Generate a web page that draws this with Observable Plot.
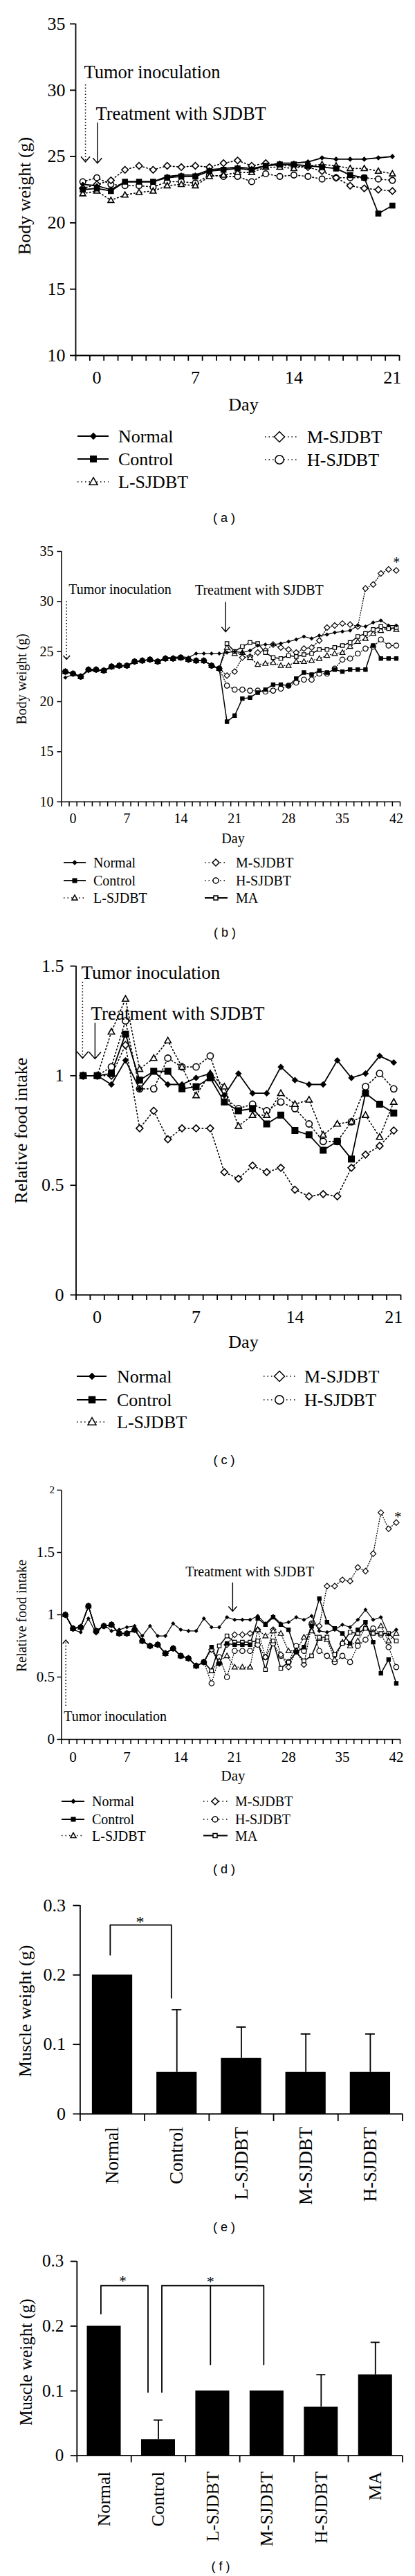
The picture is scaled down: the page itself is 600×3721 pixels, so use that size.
<!DOCTYPE html>
<html><head><meta charset="utf-8">
<script src="https://cdn.jsdelivr.net/npm/d3@7"></script>
<script src="https://cdn.jsdelivr.net/npm/@observablehq/plot@0.6"></script>
<style>
body{margin:0;background:#fff;}
#page{position:relative;width:600px;height:3721px;overflow:hidden;background:#fff;}
.abs{position:absolute;white-space:nowrap;line-height:1;color:#000;}
</style></head>
<body><div id="page"></div>
<script>
// ================= DATA =================
// (a) body weight, days -1..21
const aDays = d3.range(-1, 22);
const aNormal  = [22.9,22.8,22.5,23.1,23.1,23.1,23.5,23.6,23.6,24.0,24.1,24.2,24.1,24.3,24.5,24.5,24.6,24.9,24.8,24.8,24.8,24.9,25.0];
const aControl = [22.5,22.6,22.4,23.1,23.1,23.1,23.4,23.5,23.5,23.9,24.0,24.1,24.0,24.3,24.4,24.4,24.3,24.2,24.1,23.6,23.4,20.7,21.3];
const aL       = [22.2,22.4,21.7,22.1,22.3,22.4,22.8,22.9,22.8,23.5,23.6,23.8,23.8,24.2,24.2,24.1,24.3,24.4,24.3,24.1,24.1,23.9,23.7];
const aM       = [22.6,22.9,23.2,24.0,24.3,24.0,24.3,24.2,24.3,24.2,24.5,24.7,24.3,24.5,24.3,24.3,24.2,23.9,23.4,22.8,22.6,22.5,22.4];
const aH       = [23.1,23.4,22.9,22.8,22.8,22.7,23.1,23.1,23.0,23.6,23.5,23.5,23.1,23.7,23.5,23.6,23.5,23.3,23.4,23.4,23.4,23.3,23.2];

// (b) body weight, days -1..42 (tumour groups share values until day 19)
const bDays = d3.range(-1, 43);
const bNormal = [22.4,22.7,22.5,23.1,23.1,23.1,23.4,23.5,23.6,23.9,24.1,24.2,24.0,24.4,24.4,24.5,24.4,24.8,24.8,24.8,24.8,24.9,25.0,24.9,25.1,25.6,25.7,25.7,25.8,26.0,26.2,26.5,26.3,26.6,26.7,26.9,27.0,27.1,27.6,27.5,27.9,28.1,27.6,27.6];
const bTumorBefore = [23.0,22.8,22.5,23.2,23.2,23.1,23.5,23.6,23.6,24.0,24.1,24.2,24.0,24.3,24.3,24.4,24.2,24.1,24.1,23.6,23.3];
const bControlAfter = [18.0,18.6,20.3,20.4,20.9,21.2,21.7,21.7,21.6,22.3,22.9,22.7,23.1,22.9,23.2,23.0,23.2,23.2,23.2,25.6,24.3,24.3,24.3];
const bLAfter  = [25.4,24.8,24.9,24.4,23.7,23.8,23.9,23.6,23.6,24.0,24.0,24.1,24.3,24.6,24.8,24.9,25.5,26.0,26.3,26.8,27.1,27.4,27.2];
const bMAfter  = [22.6,23.0,24.4,24.5,24.9,25.1,25.7,25.4,25.2,24.9,25.3,25.4,26.1,27.4,27.6,27.8,27.7,27.5,31.3,31.7,32.8,33.2,33.1];
const bHAfter  = [21.6,21.2,21.2,21.1,21.1,21.0,21.1,21.3,21.6,21.9,22.2,22.2,22.8,22.8,23.3,24.2,24.3,24.8,25.3,25.5,26.2,25.6,25.6];
const bMAAfter = [25.8,25.0,25.5,25.9,25.8,24.9,24.4,24.3,24.6,24.5,24.7,24.8,25.2,25.2,25.4,25.6,25.9,26.5,26.8,27.2,27.5,27.3,27.4];

// (c) relative food intake, days -1..21
const cNormal  = [1.00,1.00,0.96,1.07,0.94,1.02,0.96,0.96,0.99,1.01,0.91,1.01,0.92,0.92,1.04,0.98,0.96,0.96,1.07,0.99,1.01,1.09,1.06];
const cControl = [1.00,1.00,1.01,1.19,0.98,1.02,1.02,0.94,0.95,0.99,0.88,0.84,0.85,0.78,0.82,0.75,0.73,0.66,0.70,0.62,0.92,0.87,0.83];
const cL       = [1.00,1.00,1.20,1.35,1.03,1.08,1.16,1.04,0.91,1.01,0.95,0.77,0.82,0.82,0.92,0.87,0.89,0.73,0.78,0.79,0.82,0.72,0.88];
const cM       = [1.00,1.00,1.00,1.14,0.76,0.84,0.71,0.76,0.76,0.76,0.56,0.53,0.59,0.56,0.58,0.48,0.45,0.46,0.45,0.58,0.64,0.68,0.75];
const cH       = [1.00,1.00,1.04,1.25,0.94,0.94,1.08,1.04,1.04,1.09,0.90,0.85,0.87,0.84,0.88,0.85,0.78,0.70,0.70,0.79,0.95,1.01,0.94];

// (d) relative food intake, days -1..42 (tumour groups share values until day 17)
const dNormal = [1.00,0.88,0.86,0.97,0.85,0.92,0.87,0.88,0.90,0.91,0.83,0.91,0.83,0.83,0.93,0.88,0.87,0.87,0.97,0.90,0.90,0.98,0.96,0.96,0.96,0.99,0.93,0.99,0.93,0.94,0.98,0.96,0.99,0.87,0.86,0.88,0.92,0.90,0.96,1.04,0.96,0.98,0.84,0.88];
const dTumorBefore = [1.00,0.89,0.90,1.07,0.87,0.91,0.92,0.85,0.85,0.88,0.79,0.75,0.76,0.69,0.73,0.67,0.65,0.59,0.62];
const dControlAfter = [0.74,0.61,0.77,0.76,0.76,0.76,0.97,0.92,0.98,0.92,0.88,0.70,0.74,0.91,1.13,0.94,0.89,0.85,0.77,0.88,0.94,0.78,0.53,0.64,0.45];
const dLAfter  = [0.55,0.63,0.67,0.58,0.58,0.58,0.88,0.83,0.87,0.85,0.71,0.71,0.82,0.87,0.81,0.80,0.64,0.78,0.75,0.79,0.90,0.86,0.91,0.79,0.85];
const dMAfter  = [0.72,0.61,0.76,0.84,0.84,0.85,0.88,0.66,0.88,0.68,0.58,0.71,0.60,0.92,0.91,1.23,1.23,1.28,1.27,1.38,1.35,1.49,1.82,1.69,1.74];
const dHAfter  = [0.45,0.66,0.50,0.71,0.71,0.71,0.76,0.66,0.77,0.67,0.62,0.75,0.71,0.93,0.71,0.67,0.62,0.67,0.62,0.75,0.80,0.89,0.84,0.74,0.58];
const dMAAfter = [0.55,0.75,0.83,0.78,0.78,0.78,0.79,0.56,0.79,0.57,0.62,0.70,0.63,0.67,0.82,0.82,0.68,0.77,0.86,0.85,0.89,0.85,0.85,0.85,0.79];

// (e) muscle weight
const eGroups = ["Normal","Control","L-SJDBT","M-SJDBT","H-SJDBT"];
const eMean   = [0.20,0.06,0.08,0.06,0.06];
const eErr    = [0,0.09,0.045,0.055,0.055];
// (f) muscle weight
const fGroups = ["Normal","Control","L-SJDBT","M-SJDBT","H-SJDBT","MA"];
const fMean   = [0.20,0.025,0.10,0.10,0.075,0.125];
const fErr    = [0,0.03,0,0,0.05,0.05];

// tick labels
const yTicksBW = [10,15,20,25,30,35];
const yTicksFood = [0,0.5,1,1.5];
const yTicksMuscle = [0,0.1,0.2,0.3];
const xLab21 = [0,7,14,21];
const xLab42 = [0,7,14,21,28,35,42];

// annotations (day, value)
const aNotes = [{label:"Tumor inoculation", day:-0.91, value:31.35},{label:"Treatment with SJDBT", day:-0.08, value:28.22}];
const aArrows = [{day:-0.81, from:30.43, to:24.6, dotted:true, head:6.5},{day:0.04, from:27.56, to:24.5, dotted:false, head:6.5}];
const bNotes = [{label:"Tumor inoculation", day:-0.57, value:31.17},{label:"Treatment with SJDBT", day:15.85, value:31.13}];
const bArrows = [{day:-0.84, from:30.02, to:24.22, dotted:true, head:4.8},{day:19.83, from:29.95, to:26.98, dotted:false, head:6}];
const bStars = [{day:42.03, value:34.24}];
const cNotes = [{label:"Tumor inoculation", day:-1.13, value:1.47},{label:"Treatment with SJDBT", day:-0.45, value:1.284}];
const cArrows = [{day:-1.04, from:1.427, to:1.080, dotted:true, head:8.5},{day:-0.16, from:1.241, to:1.077, dotted:false, head:8.5}];
const dNotes = [{label:"Tumor inoculation", day:-1.19, value:0.185},{label:"Treatment with SJDBT", day:14.61, value:1.343}];
const dArrows = [{day:-0.94, from:0.27, to:0.797, dotted:true, head:4.5},{day:20.74, from:1.259, to:1.028, dotted:false, head:6}];
const dStars = [{day:42.2, value:1.815}];
const eBrackets = [[[0.466,0.229],[0.466,0.272],[1.415,0.272],[1.415,0.167]]];
const eStars = [{pos:0.93, value:0.282}];
const fBrackets = [[[0.441,0.219],[0.441,0.2625],[1.309,0.2625],[1.309,0.098]],
                   [[1.564,0.098],[1.564,0.2625],[3.442,0.2625],[3.442,0.1407]],
                   [[2.46,0.2625],[2.46,0.1407]]];
const fStars = [{pos:0.844, value:0.276},{pos:2.46, value:0.274}];

// ================= STYLE =================
const page = document.getElementById("page");
const SERIF = "'Liberation Serif','Times New Roman',serif";
const SANS = "'Liberation Sans',Arial,sans-serif";
const rOf = s => Math.sqrt(s/Math.PI);
const SYM = {
  diamond:{draw(c,s){const r=rOf(s);c.moveTo(0,-r);c.lineTo(r,0);c.lineTo(0,r);c.lineTo(-r,0);c.closePath();}},
  square:{draw(c,s){const r=rOf(s);c.moveTo(-r,-r);c.lineTo(r,-r);c.lineTo(r,r);c.lineTo(-r,r);c.closePath();}},
  triangle:{draw(c,s){const r=rOf(s);c.moveTo(0,-1.05*r);c.lineTo(r,0.72*r);c.lineTo(-r,0.72*r);c.closePath();}},
  circle:{draw(c,s){const r=rOf(s);c.moveTo(r,0);c.arc(0,0,r,0,2*Math.PI);c.closePath();}},
  chevDown:{draw(c,s){const r=rOf(s);c.moveTo(-r,-1.15*r);c.lineTo(0,0);c.lineTo(r,-1.15*r);}},
  chevUp:{draw(c,s){const r=rOf(s);c.moveTo(-r,1.15*r);c.lineTo(0,0);c.lineTo(r,1.15*r);}}
};
const STY = {
  "Normal":{sym:"diamond", fill:"black", dotted:false},
  "Control":{sym:"square", fill:"black", dotted:false},
  "L-SJDBT":{sym:"triangle", fill:"white", dotted:true},
  "M-SJDBT":{sym:"diamond", fill:"white", dotted:true},
  "H-SJDBT":{sym:"circle", fill:"white", dotted:true},
  "MA":{sym:"square", fill:"white", dotted:false}
};
const DRAW_ORDER = ["H-SJDBT","M-SJDBT","L-SJDBT","MA","Control","Normal"];

function rows(name, days, values){ return values.map((v,i)=>({name, day:days[i], value:v})); }

function text(t, x, y, size, opt={}) {
  const d = document.createElement("div");
  d.className = "abs";
  d.textContent = t;
  d.style.left = x+"px"; d.style.top = y+"px"; d.style.fontSize = size+"px";
  d.style.fontFamily = opt.sans ? SANS : SERIF;
  d.style.transform = "translate(-50%,-50%)" + (opt.rot ? " rotate(-90deg)" : "");
  page.appendChild(d);
}

function mount(svg, top) {
  svg.style.position = "absolute"; svg.style.left = "0px"; svg.style.top = top + "px";
  svg.style.overflow = "visible"; svg.style.background = "none";
  page.appendChild(svg);
}

function linePanel(p) {
  const mt = 40, mb = 50;
  const [x0, x1] = p.xDomain;
  const marks = [
    Plot.ruleY([p.yDomain[0]], {stroke:"black", strokeWidth:p.axisW}),
    Plot.ruleX([x0], {stroke:"black", strokeWidth:p.axisW}),
    Plot.axisY({ticks:p.yTicks, tickSize:p.yTickSize, tickPadding:p.yTickPad, strokeWidth:p.axisW, label:null, tickFormat:d=>String(d)}),
    Plot.axisX({ticks:d3.range(x0, x1+0.5, 1), tickSize:p.xTickSize, tickFormat:()=>"", strokeWidth:p.axisW, label:null}),
    Plot.axisX({ticks:p.xLabels, tickSize:0, tickPadding:p.xLabelPad, label:null})
  ];
  if (p.extraYTicks) marks.push(Plot.axisY({ticks:p.extraYTicks, tickSize:p.yTickSize, tickPadding:p.yTickPad, strokeWidth:p.axisW, label:null, fontSize:p.extraFont, tickFormat:d=>String(d)}));
  const order = DRAW_ORDER.filter(n => p.series[n]);
  for (const n of order) {
    const st = STY[n];
    const o = {x:"day", y:"value", stroke:"black", strokeWidth: st.dotted ? p.dotW : (n==="Normal" ? p.normW : p.lineW)};
    if (st.dotted) o.strokeDasharray = p.dash;
    marks.push(Plot.line(p.series[n], o));
  }
  for (const n of order) {
    const st = STY[n];
    marks.push(Plot.dot(p.series[n], {x:"day", y:"value", symbol:SYM[st.sym], r:p.sizes[n], fill:st.fill, stroke:"black", strokeWidth:p.mkW}));
  }
  for (const a of p.arrows) {
    const o = {x1:"day", x2:"day", y1:"from", y2:"to", stroke:"black", strokeWidth: a.dotted ? 1.5 : 1.4};
    if (a.dotted) o.strokeDasharray = "1.5,3";
    marks.push(Plot.link([a], o));
    marks.push(Plot.dot([a], {x:"day", y:"to", symbol: a.to < a.from ? SYM.chevDown : SYM.chevUp, r:a.head, fill:"none", stroke:"black", strokeWidth:1.5}));
  }
  marks.push(Plot.text(p.notes, {x:"day", y:"value", text:"label", textAnchor:"start", lineAnchor:"middle", fontSize:p.noteSize, fill:"black"}));
  if (p.stars) marks.push(Plot.text(p.stars, {x:"day", y:"value", text:()=>"*", textAnchor:"middle", lineAnchor:"middle", fontSize:p.fontSize, dy:0.25*p.fontSize}));
  const svg = Plot.plot({
    width:600, height:(p.yBottom-p.yTop)+mt+mb, marginTop:mt, marginBottom:mb,
    marginLeft:p.xLeft, marginRight:600-p.xRight,
    x:{domain:p.xDomain, label:null}, y:{domain:p.yDomain, label:null},
    style:{fontFamily:SERIF, fontSize:p.fontSize+"px", color:"black", background:"none", overflow:"visible"},
    marks
  });
  mount(svg, p.yTop - mt);
}

function barPanel(p) {
  const mt = 40, mb = 130;
  const n = p.groups.length;
  const data = p.groups.map((g,i)=>({g, i, mean:p.mean[i], err:p.err[i]}));
  const half = 0.3125;
  const marks = [
    Plot.rect(data, {x1:d=>d.i+0.5-half, x2:d=>d.i+0.5+half, y1:0, y2:"mean", fill:"black"}),
    Plot.ruleX(data.filter(d=>d.err>0), {x:d=>d.i+0.5, y1:"mean", y2:d=>d.mean+d.err, stroke:"black", strokeWidth:1.8}),
    Plot.ruleY(data.filter(d=>d.err>0), {y:d=>d.mean+d.err, x1:d=>d.i+0.5-p.cap, x2:d=>d.i+0.5+p.cap, stroke:"black", strokeWidth:1.8}),
    Plot.ruleY([0], {stroke:"black", strokeWidth:1.8}),
    Plot.ruleX([0], {stroke:"black", strokeWidth:1.8}),
    Plot.axisY({ticks:p.yTicks, tickSize:p.yTickSize, tickPadding:p.yTickPad, strokeWidth:1.8, label:null, tickFormat:d=>d===0?"0":d.toFixed(1)}),
    Plot.axisX({ticks:d3.range(0, n+1), tickSize:p.xTickSize, tickFormat:()=>"", strokeWidth:1.8, label:null}),
    Plot.axisX({ticks:p.groups.map((g,i)=>i+0.5), tickFormat:d=>p.groups[Math.floor(d)], tickRotate:-90, tickSize:0, tickPadding:p.labelPad, fontSize:p.labelSize, label:null})
  ];
  for (const b of p.brackets) marks.push(Plot.line(b, {x:d=>d[0], y:d=>d[1], stroke:"black", strokeWidth:1.8}));
  marks.push(Plot.text(p.stars, {x:"pos", y:"value", text:()=>"*", textAnchor:"middle", lineAnchor:"middle", fontSize:p.starSize, dy:0.25*p.starSize}));
  const svg = Plot.plot({
    width:600, height:(p.yBottom-p.yTop)+mt+mb, marginTop:mt, marginBottom:mb,
    marginLeft:p.xLeft, marginRight:600-p.xRight,
    x:{domain:[0,n], label:null}, y:{domain:[0,0.3], label:null},
    style:{fontFamily:SERIF, fontSize:p.fontSize+"px", color:"black", background:"none", overflow:"visible"},
    marks
  });
  mount(svg, p.yTop - mt);
}

function legend(items, size) {
  const top = d3.min(items, d=>d.y) - 25, h = d3.max(items, d=>d.y) - top + 25;
  const svg = d3.create("svg").attr("width",600).attr("height",h)
    .style("position","absolute").style("left","0px").style("top",top+"px").style("overflow","visible");
  for (const it of items) {
    const st = STY[it.name];
    const y = it.y - top;
    const ln = svg.append("line").attr("x1",it.c.x0).attr("x2",it.c.x1).attr("y1",y).attr("y2",y)
      .attr("stroke","black").attr("stroke-width", st.dotted ? 1.5 : 1.8);
    if (st.dotted) ln.attr("stroke-dasharray","1.5,4");
    const pth = d3.path(); SYM[st.sym].draw(pth, Math.PI*it.r*it.r);
    svg.append("path").attr("d", pth.toString()).attr("transform",`translate(${it.c.mx},${y})`)
      .attr("fill", st.fill).attr("stroke","black").attr("stroke-width",1.5);
    svg.append("text").attr("x",it.c.tx).attr("y",y).attr("dy","0.35em")
      .style("font-family",SERIF).style("font-size",size+"px").text(it.name);
  }
  page.appendChild(svg.node());
}

// ================= PANELS =================
// (a)
linePanel({
  xLeft:109, xRight:577, yTop:33.5, yBottom:512.5, xDomain:[-1.5,21.5], yDomain:[10,35],
  yTicks:yTicksBW, xLabels:xLab21, fontSize:26, yTickSize:8, yTickPad:7, xTickSize:8, xLabelPad:22.5,
  axisW:1.8, lineW:1.8, normW:1.8, dotW:1.6, mkW:1.6, dash:"1.5,3.5", noteSize:26.5,
  series:{"Normal":rows("Normal",aDays,aNormal),"Control":rows("Control",aDays,aControl),
    "L-SJDBT":rows("L-SJDBT",aDays,aL),"M-SJDBT":rows("M-SJDBT",aDays,aM),"H-SJDBT":rows("H-SJDBT",aDays,aH)},
  sizes:{"Normal":2.7,"Control":3.5,"L-SJDBT":4.3,"M-SJDBT":4.8,"H-SJDBT":4.25},
  notes:aNotes, arrows:aArrows
});
// (b)
linePanel({
  xLeft:88.4, xRight:578, yTop:796, yBottom:1157.7, xDomain:[-1.5,42.5], yDomain:[10,35],
  yTicks:yTicksBW, xLabels:xLab42, fontSize:20, yTickSize:6, yTickPad:5.5, xTickSize:7, xLabelPad:16.7,
  axisW:1.5, lineW:1.5, normW:1.2, dotW:1.3, mkW:1.2, dash:"1,2.5", noteSize:20,
  series:{"Normal":rows("Normal",bDays,bNormal),
    "Control":rows("Control",bDays,bTumorBefore.concat(bControlAfter)),
    "L-SJDBT":rows("L-SJDBT",bDays,bTumorBefore.concat(bLAfter)),
    "M-SJDBT":rows("M-SJDBT",bDays,bTumorBefore.concat(bMAfter)),
    "H-SJDBT":rows("H-SJDBT",bDays,bTumorBefore.concat(bHAfter)),
    "MA":rows("MA",bDays,bTumorBefore.concat(bMAAfter))},
  sizes:{"Normal":2.2,"Control":2.6,"L-SJDBT":3.8,"M-SJDBT":4.1,"H-SJDBT":3.7,"MA":2.7},
  notes:bNotes, arrows:bArrows, stars:bStars
});
// (c)
linePanel({
  xLeft:109.5, xRight:579, yTop:1395, yBottom:1870, xDomain:[-1.5,21.5], yDomain:[0,1.5],
  yTicks:yTicksFood, xLabels:xLab21, fontSize:26, yTickSize:8, yTickPad:9.5, xTickSize:8, xLabelPad:22,
  axisW:1.8, lineW:1.8, normW:1.8, dotW:1.6, mkW:1.6, dash:"1.5,3.5", noteSize:27,
  series:{"Normal":rows("Normal",aDays,cNormal),"Control":rows("Control",aDays,cControl),
    "L-SJDBT":rows("L-SJDBT",aDays,cL),"M-SJDBT":rows("M-SJDBT",aDays,cM),"H-SJDBT":rows("H-SJDBT",aDays,cH)},
  sizes:{"Normal":3.6,"Control":4.2,"L-SJDBT":4.6,"M-SJDBT":5.0,"H-SJDBT":4.6},
  notes:cNotes, arrows:cArrows
});
// (d)
linePanel({
  xLeft:88.4, xRight:578, yTop:2151.7, yBottom:2511.7, xDomain:[-1.5,42.5], yDomain:[0,2],
  yTicks:yTicksFood, extraYTicks:[2], extraFont:15, xLabels:xLab42, fontSize:21, yTickSize:6, yTickPad:4, xTickSize:7, xLabelPad:17.8,
  axisW:1.5, lineW:1.5, normW:1.2, dotW:1.3, mkW:1.2, dash:"1,2.5", noteSize:20,
  series:{"Normal":rows("Normal",bDays,dNormal),
    "Control":rows("Control",bDays,dTumorBefore.concat(dControlAfter)),
    "L-SJDBT":rows("L-SJDBT",bDays,dTumorBefore.concat(dLAfter)),
    "M-SJDBT":rows("M-SJDBT",bDays,dTumorBefore.concat(dMAfter)),
    "H-SJDBT":rows("H-SJDBT",bDays,dTumorBefore.concat(dHAfter)),
    "MA":rows("MA",bDays,dTumorBefore.concat(dMAAfter))},
  sizes:{"Normal":2.2,"Control":2.6,"L-SJDBT":3.8,"M-SJDBT":4.1,"H-SJDBT":3.7,"MA":2.7},
  notes:dNotes, arrows:dArrows, stars:dStars
});
// (e)
barPanel({groups:eGroups, mean:eMean, err:eErr, xLeft:115.4, xRight:581.5, yTop:2752, yBottom:3053,
  yTicks:yTicksMuscle, fontSize:26, yTickSize:10, yTickPad:11, xTickSize:11, labelPad:19, labelSize:27,
  cap:0.075, brackets:eBrackets, stars:eStars, starSize:24});
// (f)
barPanel({groups:fGroups, mean:fMean, err:fErr, xLeft:110.8, xRight:581.5, yTop:3266, yBottom:3546.7,
  yTicks:yTicksMuscle, fontSize:25, yTickSize:9, yTickPad:10, xTickSize:10, labelPad:23, labelSize:26,
  cap:0.083, brackets:fBrackets, stars:fStars, starSize:22});

// ================= LEGENDS =================
const LA1 = {x0:112,x1:157,mx:135,tx:171}, LA2 = {x0:383,x1:431,mx:404,tx:444};
legend([{name:"Normal",y:630,c:LA1,r:4.2},{name:"Control",y:663,c:LA1,r:4.2},{name:"L-SJDBT",y:696,c:LA1,r:6},
        {name:"M-SJDBT",y:631,c:LA2,r:7.5},{name:"H-SJDBT",y:664,c:LA2,r:6.2}], 26);
const LB1 = {x0:92,x1:124,mx:108,tx:135}, LB2 = {x0:296,x1:329,mx:312,tx:341};
legend([{name:"Normal",y:1246,c:LB1,r:2.8},{name:"Control",y:1272,c:LB1,r:2.8},{name:"L-SJDBT",y:1297,c:LB1,r:4},
        {name:"M-SJDBT",y:1246,c:LB2,r:5},{name:"H-SJDBT",y:1272,c:LB2,r:4},{name:"MA",y:1297,c:LB2,r:3}], 20);
const LC1 = {x0:111,x1:154,mx:133,tx:169}, LC2 = {x0:381,x1:427,mx:404,tx:440};
legend([{name:"Normal",y:1988,c:LC1,r:4.2},{name:"Control",y:2022,c:LC1,r:4.5},{name:"L-SJDBT",y:2054,c:LC1,r:6},
        {name:"M-SJDBT",y:1988,c:LC2,r:7.5},{name:"H-SJDBT",y:2022,c:LC2,r:6.2}], 26);
const LD1 = {x0:89,x1:122,mx:106,tx:133}, LD2 = {x0:294,x1:329,mx:311,tx:340};
legend([{name:"Normal",y:2601.5,c:LD1,r:2.8},{name:"Control",y:2627.5,c:LD1,r:2.8},{name:"L-SJDBT",y:2651,c:LD1,r:4},
        {name:"M-SJDBT",y:2601.5,c:LD2,r:5},{name:"H-SJDBT",y:2627.5,c:LD2,r:4},{name:"MA",y:2651,c:LD2,r:3}], 20);

// ================= AXIS TITLES & CAPTIONS =================
text("Body weight (g)", 36, 283, 26, {rot:true});
text("Day", 352, 585, 26);
text("( a )", 324, 748, 18, {sans:true});
text("Body weight (g)", 31, 981, 20, {rot:true});
text("Day", 337, 1211, 20);
text("( b )", 325, 1347, 18, {sans:true});
text("Relative food intake", 31, 1633, 26, {rot:true});
text("Day", 352, 1939, 26);
text("( c )", 324, 2109, 18, {sans:true});
text("Relative food intake", 31, 2334, 20, {rot:true});
text("Day", 337, 2565, 21);
text("( d )", 324, 2700, 18, {sans:true});
text("Muscle weight (g)", 37, 2905, 26, {rot:true});
text("( e )", 324, 3217, 18, {sans:true});
text("Muscle weight (g)", 37, 3412, 25, {rot:true});
text("( f )", 319, 3707, 18, {sans:true});
</script>
</body></html>
